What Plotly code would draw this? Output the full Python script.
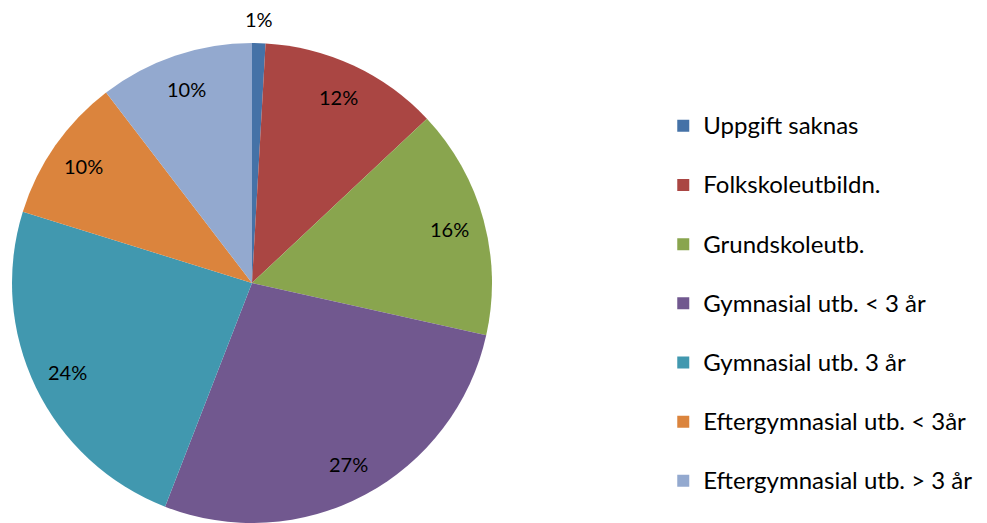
import math
import plotly.graph_objects as go

categories = [
    "Uppgift saknas",
    "Folkskoleutbildn.",
    "Grundskoleutb.",
    "Gymnasial utb. < 3 år",
    "Gymnasial utb. 3 år",
    "Eftergymnasial utb. < 3år",
    "Eftergymnasial utb. > 3 år",
]
values = [0.9, 12.1, 15.5, 27.4, 23.9, 9.8, 10.4]
pct_labels = ["1%", "12%", "16%", "27%", "24%", "10%", "10%"]
colors = ["#4572A7", "#AA4643", "#89A54E", "#71588F", "#4198AF", "#DB843D", "#93A9CF"]

W, H = 987, 523
dom_x = [12 / W, 492 / W]
dom_y = [0.0, 1 - 43 / H]

fig = go.Figure()
fig.add_trace(go.Pie(
    labels=[f' <br><span style="font-size:24px">{c}</span>' for c in categories],
    values=values,
    sort=False,
    direction="clockwise",
    rotation=0,
    marker=dict(colors=colors, line=dict(width=0)),
    textinfo="none",
    hoverinfo="percent",
    domain=dict(x=dom_x, y=dom_y),
    showlegend=True,
))

# percentage labels placed from the data (slice mid-angles) relative to the pie geometry
total = sum(values)
cx = (dom_x[0] + dom_x[1]) / 2
cy = (dom_y[0] + dom_y[1]) / 2
rpx = min((dom_x[1] - dom_x[0]) * W, (dom_y[1] - dom_y[0]) * H) / 2
cum = 0.0
for v, t in zip(values, pct_labels):
    ang = math.radians((cum + v / 2) / total * 360)
    cum += v
    f = 1.1 if v / total < 0.02 else 0.855
    fig.add_annotation(
        x=cx + f * rpx * math.sin(ang) / W,
        y=cy + f * rpx * math.cos(ang) / H,
        xref="paper", yref="paper",
        xanchor="center", yanchor="middle",
        text=t, showarrow=False,
        font=dict(family="Lato, sans-serif", size=20, color="#000000"),
    )

fig.update_layout(
    width=W, height=H,
    margin=dict(l=0, r=0, t=0, b=0),
    paper_bgcolor="white",
    plot_bgcolor="white",
    font=dict(family="Lato, sans-serif", color="#000000"),
    legend=dict(
        x=0.672, y=0.446, xanchor="left", yanchor="middle",
        valign="bottom",
        font=dict(family="Lato, sans-serif", size=21.6, color="#000000"),
        itemclick=False, itemdoubleclick=False,
    ),
)
fig.write_html("out.html", config={"displayModeBar": False},
               post_script="document.body.style.margin='0';")
